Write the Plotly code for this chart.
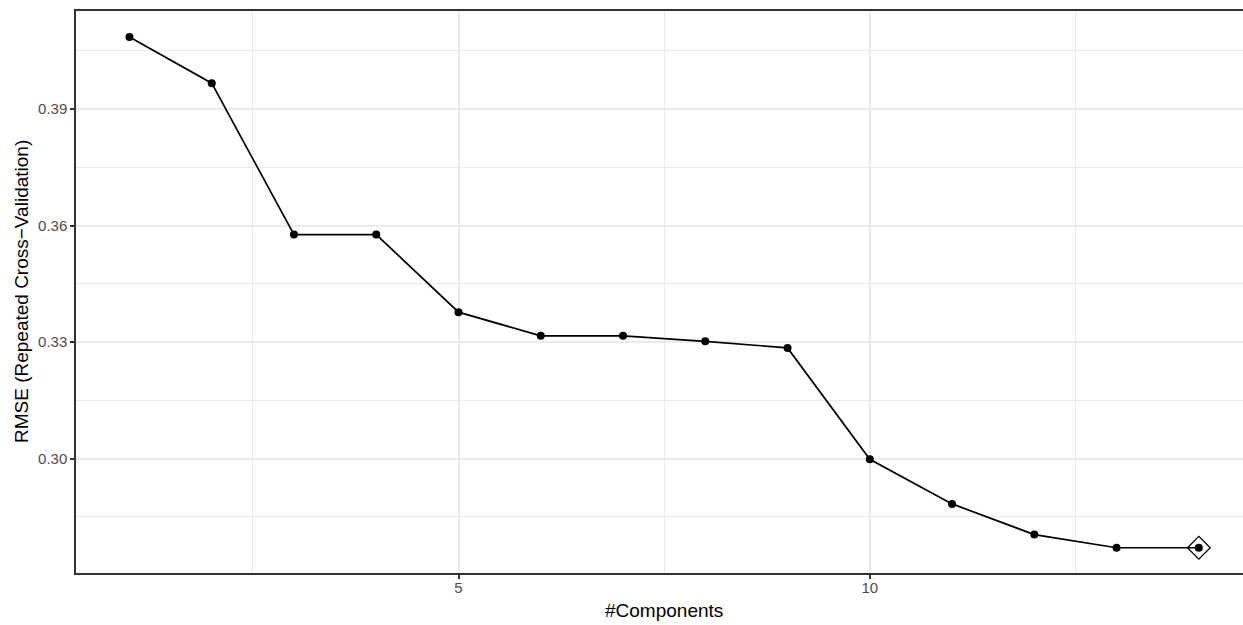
import plotly.graph_objects as go

# Data
components = [1, 2, 3, 4, 5, 6, 7, 8, 9, 10, 11, 12, 13, 14]
rmse = [0.4086, 0.3967, 0.3577, 0.3577, 0.3377, 0.3316, 0.3316, 0.3302,
        0.3285, 0.2998, 0.2883, 0.2804, 0.2770, 0.2770]
best_ncomp = 14
best_rmse = rmse[components.index(best_ncomp)]

x_ticks = [5, 10]
x_minor = [2.5, 7.5, 12.5]
y_ticks = [0.30, 0.33, 0.36, 0.39]
y_tick_labels = ["0.30", "0.33", "0.36", "0.39"]
y_minor = [0.285, 0.315, 0.345, 0.375, 0.405]

FONT = "Liberation Sans, Arial, Helvetica, sans-serif"
GRID = "#EBEBEB"
BORDER = "#333333"

fig = go.Figure()
fig.add_trace(go.Scatter(
    x=components, y=rmse, mode="lines+markers",
    line=dict(color="black", width=1.7),
    marker=dict(color="black", size=8),
    showlegend=False, hoverinfo="x+y",
))
fig.add_trace(go.Scatter(
    x=[best_ncomp], y=[best_rmse], mode="markers",
    marker=dict(symbol="diamond-open", size=17.5, color="black",
                line=dict(width=1.3, color="black")),
    showlegend=False, hoverinfo="skip",
))

fig.update_layout(
    width=1243, height=625,
    margin=dict(l=76, r=0, t=11, b=52),
    paper_bgcolor="white", plot_bgcolor="white",
    font=dict(family=FONT, color="black"),
    xaxis=dict(
        range=[0.35, 14.537],
        tickvals=x_ticks, ticktext=[str(v) for v in x_ticks],
        showgrid=True, gridcolor=GRID, gridwidth=2,
        minor=dict(tickvals=x_minor, showgrid=True, gridcolor=GRID,
                   gridwidth=1, ticks=""),
        zeroline=False,
        showline=True, linecolor=BORDER, linewidth=1.5, mirror=True,
        ticks="outside", ticklen=4, tickwidth=1.5, tickcolor=BORDER,
        ticklabelstandoff=-4,
        tickfont=dict(size=15, color="#4D4D4D", family=FONT),
        fixedrange=True,
    ),
    yaxis=dict(
        range=[0.2705, 0.4153],
        tickvals=y_ticks, ticktext=y_tick_labels,
        showgrid=True, gridcolor=GRID, gridwidth=2,
        minor=dict(tickvals=y_minor, showgrid=True, gridcolor=GRID,
                   gridwidth=1, ticks=""),
        zeroline=False,
        showline=True, linecolor=BORDER, linewidth=1.5, mirror=False,
        ticks="outside", ticklen=4, tickwidth=1.5, tickcolor=BORDER,
        tickfont=dict(size=15, color="#4D4D4D", family=FONT),
        fixedrange=True,
    ),
    annotations=[
        dict(text="#Components", xref="x", yref="paper", x=7.5, y=-0.066,
             xanchor="center", yanchor="middle", showarrow=False,
             font=dict(size=19, color="black", family=FONT)),
        dict(text="RMSE (Repeated Cross\u2212Validation)", xref="paper", yref="paper",
             x=-0.0471, y=0.5, textangle=-90, xanchor="center", yanchor="middle",
             showarrow=False, font=dict(size=19, color="black", family=FONT)),
    ],
)

fig.write_html("out.html")
